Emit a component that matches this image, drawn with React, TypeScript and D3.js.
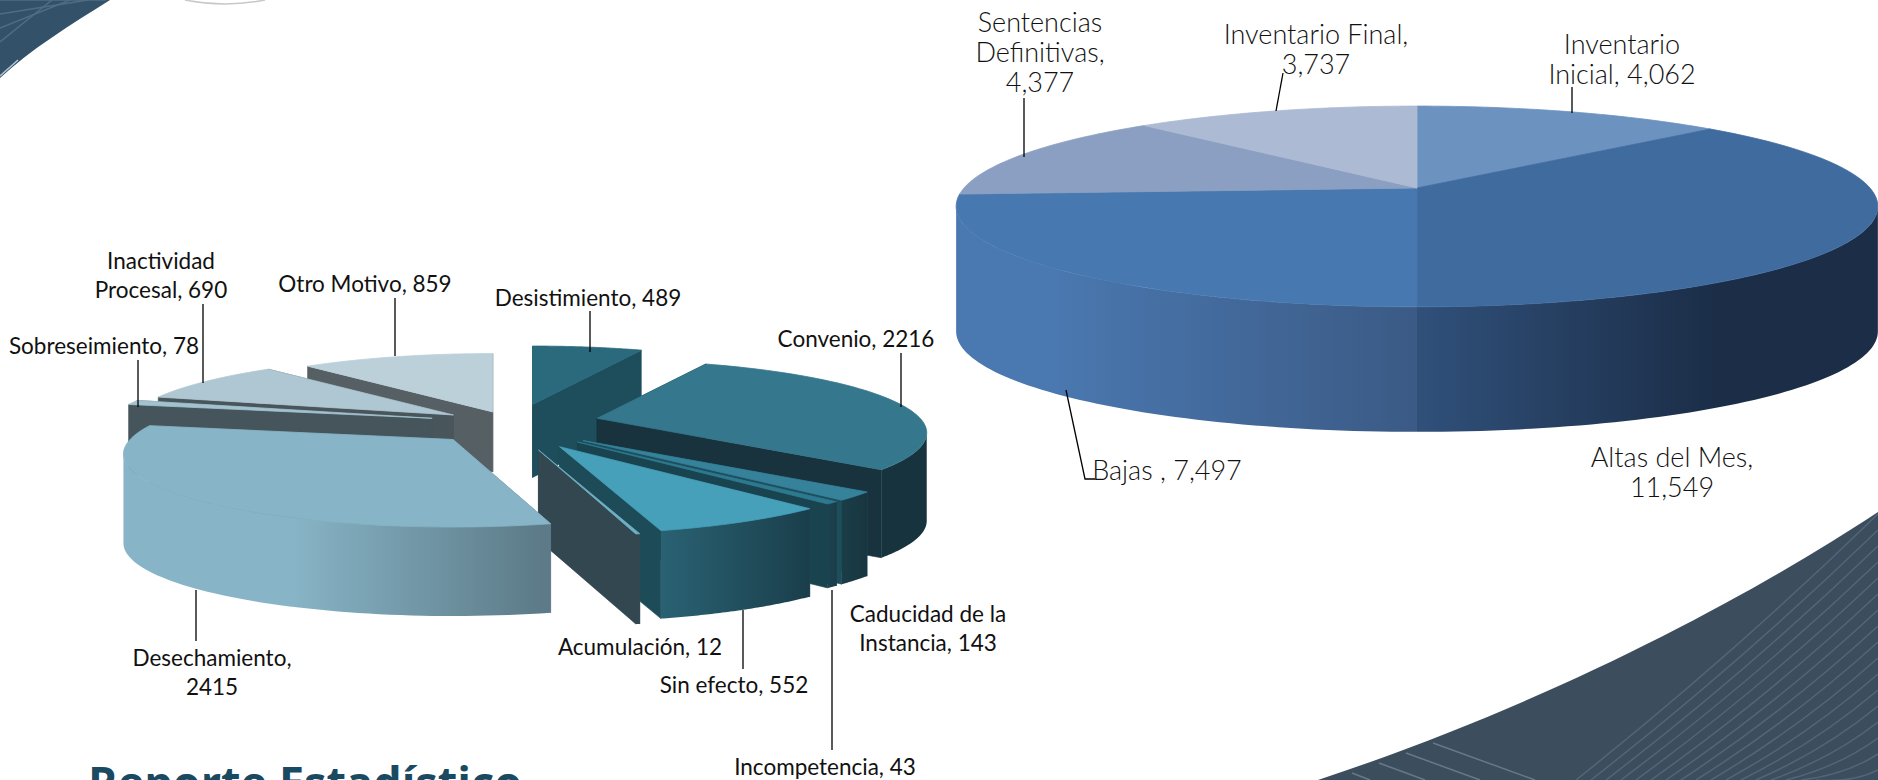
import React from "react";
import * as d3 from "d3";

const rightCategories = ["Inventario Inicial", "Altas del Mes", "Bajas", "Sentencias Definitivas", "Inventario Final"];
const rightValues = [4062, 11549, 7497, 4377, 3737];
const rightTop = ["#6c92bf", "#406b9e", "#4878b0", "#8a9fc2", "#adbad3"];

const leftCategories = ["Desistimiento", "Convenio", "Caducidad de la Instancia", "Incompetencia", "Sin efecto", "Acumulación", "Desechamiento", "Sobreseimiento", "Inactividad Procesal", "Otro Motivo"];
const leftValues = [489, 2216, 143, 43, 552, 12, 2415, 78, 690, 859];
const leftTop = ["#2a6a7c", "#35778c", "#35829a", "#2d7a90", "#46a0ba", "#6fb0c4", "#87b4c6", "#a3c2cf", "#aec7d3", "#bcd0da"];
const leftFace = ["#1e4d5c", "#18333d", "#1e4d5c", "#1a4350", "#1e4b58", "#32474f", "#5c7a87", "#46555c", "#48565c", "#565f63"];
const leftWallFrom = ["#1e4d5c", "#17333d", "#1a3d48", "#1c4350", "#2a6273", "#32474f", "#87b4c6", "#46555c", "#48565c", "#565f63"];
const leftWallTo = ["#1e4d5c", "#17333d", "#18363f", "#1a3d48", "#1a3e4b", "#32474f", "#5c7a87", "#46555c", "#48565c", "#565f63"];
const leftExplode = [0.3, 0.27, 0.3, 0.3, 0.31, 0.32, 0.27, 0.26, 0.22, 0.18];
const leftDepth = [73, 88, 84, 84, 88, 90, 89, 70, 62, 60];
const drawOrder = [9, 8, 7, 0, 1, 2, 3, 4, 5, 6];

type V = [number, number];
const persp = (k: number, R: number, H: number) => (a: number, r = 1): V => {
  const s = Math.sin(a) * r, c = Math.cos(a) * r, w = 1 + k * c;
  return [(R * s) / w, (-H * c) / w];
};
const line = d3.line<V>().x((d) => d[0]).y((d) => d[1]);
const closed = (p: V[]) => line(p) + "Z";
const rim = (pr: (a: number) => V, a0: number, a1: number, ox: number, oy: number) =>
  d3.range(0, 61).map((i) => {
    const q = pr(d3.interpolateNumber(a0, a1)(i / 60));
    return [q[0] + ox, q[1] + oy] as V;
  });
const shift = (p: V[], dy: number) => p.map((d) => [d[0], d[1] + dy] as V);
// Outer wall: only the stretch of the rim that faces the viewer.
const wallPath = (pr: (a: number) => V, k: number, a0: number, a1: number, ox: number, oy: number, d: number) => {
  const from = Math.acos(-k), to = 2 * Math.PI - from;
  const lo = Math.max(a0, from), hi = Math.min(a1, to);
  if (hi <= lo) return null;
  const r = rim(pr, lo, hi, ox, oy);
  return closed([...r, ...shift(r, d).reverse()]);
};

const pie = d3.pie<number>().sort(null).startAngle(0).endAngle(2 * Math.PI);

function RightPie() {
  const cx = 1417, cy = 188, depth = 125, k = 0.184;
  const pr = persp(k, 453, 97);
  const arcs = pie(rightValues);
  const walls = [1, 2];
  return (
    <g>
      <defs>
        <linearGradient id="rw1" gradientUnits="userSpaceOnUse" x1={1417} x2={1720} y1={0} y2={0}>
          <stop offset="0" stopColor="#30507a" />
          <stop offset="1" stopColor="#1b2d47" />
        </linearGradient>
        <linearGradient id="rw2" gradientUnits="userSpaceOnUse" x1={1050} x2={1417} y1={0} y2={0}>
          <stop offset="0" stopColor="#4a78b0" />
          <stop offset="1" stopColor="#3b5a85" />
        </linearGradient>
      </defs>
      {walls.map((i) => (
        <path key={i} d={wallPath(pr, k, arcs[i].startAngle, arcs[i].endAngle, cx, cy, depth) as string} fill={`url(#rw${i})`} />
      ))}
      {arcs.map((a, i) => (
        <path key={i} d={closed([[cx, cy], ...rim(pr, a.startAngle, a.endAngle, cx, cy)])} fill={rightTop[i]} stroke={rightTop[i]} strokeWidth={0.8} />
      ))}
    </g>
  );
}

function LeftPie() {
  const cx = 513, cy = 422, k = 0.2;
  const pr = persp(k, 323, 70);
  const arcs = pie(leftValues);
  return (
    <g>
      <defs>
        {arcs.map((a, i) => {
          const r = rim(pr, a.startAngle, a.endAngle, 0, 0);
          const xs = r.map((d) => d[0]);
          const mid = (a.startAngle + a.endAngle) / 2;
          const ax = cx + leftExplode[i] * Math.sin(mid) * 320;
          const span = i === 6 ? [ax - 160, ax + 90] : [ax + (d3.min(xs) as number), ax + (d3.max(xs) as number)];
          return (
            <linearGradient key={i} id={`lw${i}`} gradientUnits="userSpaceOnUse" x1={span[0]} x2={span[1]} y1={0} y2={0}>
              <stop offset="0" stopColor={leftWallFrom[i]} />
              <stop offset="1" stopColor={leftWallTo[i]} />
            </linearGradient>
          );
        })}
      </defs>
      {drawOrder.map((i) => {
        const a = arcs[i];
        const mid = (a.startAngle + a.endAngle) / 2;
        const cm = Math.cos(mid);
        const ax = cx + leftExplode[i] * Math.sin(mid) * 320;
        const ay = cy - leftExplode[i] * cm * (cm < 0 ? 90 : 60);
        const r = rim(pr, a.startAngle, a.endAngle, ax, ay);
        const d = leftDepth[i];
        const apex: V = [ax, ay];
        const first = r[0], last = r[r.length - 1];
        const faces: V[][] = [
          [apex, first, [first[0], first[1] + d], [ax, ay + d]],
          [apex, last, [last[0], last[1] + d], [ax, ay + d]],
        ];
        const wall = wallPath(pr, k, a.startAngle, a.endAngle, ax, ay, d);
        return (
          <g key={i}>
            {faces.map((f, j) => (
              <path key={j} d={closed(f)} fill={leftFace[i]} stroke={leftFace[i]} strokeWidth={0.6} />
            ))}
            {wall && <path d={wall} fill={`url(#lw${i})`} />}
            <path d={closed([apex, ...r])} fill={leftTop[i]} stroke={leftTop[i]} strokeWidth={0.8} />
          </g>
        );
      })}
    </g>
  );
}

const fmt = d3.format(",");
const rLabels: { lines: string[]; x: number; y: number }[] = [
  { lines: ["Inventario", `Inicial, ${fmt(rightValues[0])}`], x: 1622, y: 54 },
  { lines: ["Altas del Mes,", fmt(rightValues[1])], x: 1672, y: 467 },
  { lines: [`Bajas , ${fmt(rightValues[2])}`], x: 1167, y: 480 },
  { lines: ["Sentencias", "Definitivas,", fmt(rightValues[3])], x: 1040, y: 32 },
  { lines: ["Inventario Final,", fmt(rightValues[4])], x: 1316, y: 44 },
];
const lLabels: { lines: string[]; x: number; y: number }[] = [
  { lines: [`Desistimiento, ${leftValues[0]}`], x: 588, y: 306 },
  { lines: [`Convenio, ${leftValues[1]}`], x: 856, y: 347 },
  { lines: ["Caducidad de la", `Instancia, ${leftValues[2]}`], x: 928, y: 622 },
  { lines: [`Incompetencia, ${leftValues[3]}`], x: 825, y: 775 },
  { lines: [`Sin efecto, ${leftValues[4]}`], x: 734, y: 693 },
  { lines: [`Acumulación, ${leftValues[5]}`], x: 640, y: 655 },
  { lines: ["Desechamiento,", `${leftValues[6]}`], x: 212, y: 666 },
  { lines: [`Sobreseimiento, ${leftValues[7]}`], x: 104, y: 354 },
  { lines: ["Inactividad", `Procesal, ${leftValues[8]}`], x: 161, y: 269 },
  { lines: [`Otro Motivo, ${leftValues[9]}`], x: 365, y: 292 },
];
const lLeaders: [V, V][] = [
  [[590, 311], [590, 352]],
  [[901, 353], [901, 407]],
  [[743, 610], [743, 669]],
  [[832, 590], [832, 750]],
  [[196, 590], [196, 641]],
  [[138, 360], [138, 407]],
  [[203, 304], [203, 383]],
  [[395, 298], [395, 356]],
];
const rLeaders: V[][] = [
  [[1572, 87], [1572, 113]],
  [[1283, 73], [1276, 111]],
  [[1024, 98], [1024, 157]],
  [[1066, 390], [1085, 479], [1095, 479]],
];

export default function App() {
  return (
    <svg width={1878} height={780} style={{ position: "absolute", left: 0, top: 0, background: "#fff" }}>
      <path d="M0,0 L110,0 C70,25 30,50 0,78 Z" fill="#33526a" />
      <path d="M0,76 L18,60" stroke="#b9c6d6" strokeWidth={1.5} />
      {d3.range(0, 4).map((i) => (
        <path key={i} d={`M0,${42 - i * 14} L${52 + i * 18},0`} stroke="#4f6d84" strokeWidth={1.5} fill="none" />
      ))}
      <path d="M185,0 Q225,8 265,0" stroke="#c8c8c8" strokeWidth={1.5} fill="none" />
      <path d="M1878,512 C1760,590 1560,700 1318,780 L1878,780 Z" fill="#3c4e5e" />
      {d3.range(0, 17).map((i) => {
        const x0 = 1576 + i * 15, y1 = 514 + i * 16;
        return <path key={i} d={`M${x0},780 Q${(x0 + 1878) / 2 + 6},${(780 + y1) / 2 + 8} 1878,${y1}`} stroke="#52657a" strokeWidth={1.5} fill="none" />;
      })}
      {d3.range(0, 4).map((i) => (
        <path key={i} d={`M${1352 + i * 27},${773 - i * 10} L${1370 + i * 55},780`} stroke="#66788a" strokeWidth={1.5} fill="none" />
      ))}
      <LeftPie />
      <RightPie />
      <g stroke="#000" strokeWidth={1.3} fill="none">
        {lLeaders.map((p, i) => <path key={i} d={line(p) as string} />)}
        {rLeaders.map((p, i) => <path key={i} d={line(p) as string} />)}
      </g>
      <g fontFamily="Lato" fontSize={22.5} fill="#111" textAnchor="middle">
        {lLabels.map((l, i) => (
          <text key={i} x={l.x} y={l.y}>
            {l.lines.map((t, j) => <tspan key={j} x={l.x} dy={j ? 29 : 0}>{t}</tspan>)}
          </text>
        ))}
      </g>
      <g fontFamily="Lato" fontWeight={300} fontSize={27} fill="#111" textAnchor="middle">
        {rLabels.map((l, i) => (
          <text key={i} x={l.x} y={l.y}>
            {l.lines.map((t, j) => <tspan key={j} x={l.x} dy={j ? 30 : 0}>{t}</tspan>)}
          </text>
        ))}
      </g>
      <text x={88} y={799} fontFamily="Open Sans" fontWeight={700} fontSize={45} fill="#1a4a62">Reporte Estadístico</text>
    </svg>
  );
}
